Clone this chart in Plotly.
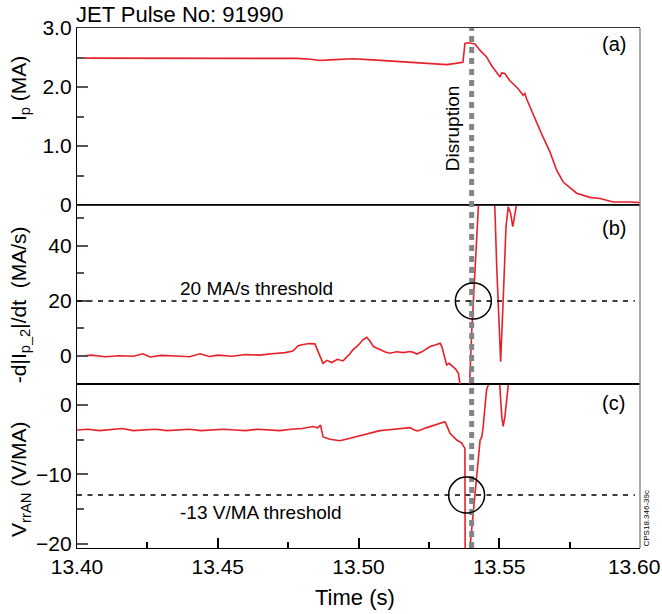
import plotly.graph_objects as go

# ---- data -------------------------------------------------------------
pulse_label = "JET Pulse No: 91990"

# (a) plasma current Ip [MA]
t_a = [13.4000, 13.4100, 13.4200, 13.4300, 13.4400, 13.4500, 13.4600, 13.4700,
       13.4780, 13.4830, 13.4863, 13.4899, 13.4940, 13.4980, 13.5050, 13.5120,
       13.5200, 13.5260, 13.5314, 13.5345, 13.5371, 13.5378, 13.5390, 13.5414,
       13.5432, 13.5455, 13.5473, 13.5503, 13.5509, 13.5520, 13.5537, 13.5567,
       13.5585, 13.5591, 13.5597, 13.5650, 13.5680, 13.5704, 13.5727, 13.5775,
       13.5822, 13.5858, 13.5905, 13.5965, 13.6000]
ip = [2.49, 2.49, 2.485, 2.49, 2.49, 2.49, 2.49, 2.49,
      2.485, 2.47, 2.45, 2.46, 2.475, 2.48, 2.46, 2.44,
      2.41, 2.39, 2.38, 2.40, 2.42, 2.74, 2.75, 2.73,
      2.62, 2.51, 2.36, 2.17, 2.24, 2.23, 2.11, 1.97,
      1.86, 1.89, 1.80, 1.21, 0.90, 0.59, 0.39, 0.20,
      0.13, 0.11, 0.05, 0.05, 0.04]

# (b) -d|Ip_2|/dt [MA/s]
t_b = [13.4000, 13.4050, 13.4100, 13.4150, 13.4200, 13.4234, 13.4260, 13.4300,
       13.4350, 13.4400, 13.4437, 13.4470, 13.4500, 13.4550, 13.4600, 13.4650,
       13.4700, 13.4740, 13.4767, 13.4785, 13.4799, 13.4825, 13.4845, 13.4860,
       13.4874, 13.4888, 13.4905, 13.4925, 13.4945, 13.4965, 13.4980, 13.5000,
       13.5015, 13.5029, 13.5040, 13.5053, 13.5075, 13.5095, 13.5112, 13.5135,
       13.5160, 13.5183, 13.5195, 13.5207, 13.5225, 13.5240, 13.5254, 13.5270,
       13.5290, 13.5296, 13.5305, 13.5313, 13.5322, 13.5331, 13.5345, 13.5355,
       13.5361, 13.5368, 13.5385, 13.5394, 13.5402, 13.5408, 13.5420, 13.5426,
       13.5434, 13.5476, 13.5484, 13.5491, 13.5505, 13.5514, 13.5524, 13.5532,
       13.5540, 13.5548, 13.5556, 13.5563, 13.5570]
dip_dt = [-0.2, 0.3, -0.3, 0.1, -0.1, 0.8, -0.4, 0.2,
          0.0, -0.3, 0.8, -0.2, 0.3, -0.1, 0.5, 0.3,
          0.9, 1.2, 1.8, 3.6, 4.1, 4.5, 4.4, 0.5,
          -2.7, -1.6, -2.4, -1.2, -1.8, 0.3, 2.2, 4.0,
          5.8, 6.8, 5.5, 3.4, 2.2, 1.4, 1.0, 1.5,
          1.2, 1.6, 1.3, 0.7, 1.5, 2.4, 3.4, 3.9,
          4.6, 3.4, -0.5, -3.3, -2.7, -3.5, -4.8, -6.3,
          -10.5, -16.0, -16.0, -12.0, 8.2, 20.4, 44.7, 55.0,
          70.0, 70.0, 55.0, 32.5, -2.1, 20.4, 47.0, 54.3,
          52.0, 47.0, 51.9, 56.0, 70.0]

# (c) V_rrAN [V/MA]
t_c = [13.4000, 13.4040, 13.4080, 13.4120, 13.4160, 13.4200, 13.4240, 13.4280,
       13.4320, 13.4360, 13.4400, 13.4440, 13.4480, 13.4520, 13.4560, 13.4600,
       13.4640, 13.4680, 13.4720, 13.4760, 13.4800, 13.4838, 13.4855, 13.4865,
       13.4874, 13.4899, 13.4934, 13.4970, 13.5016, 13.5045, 13.5076, 13.5100,
       13.5120, 13.5150, 13.5183, 13.5198, 13.5211, 13.5240, 13.5270, 13.5307,
       13.5313, 13.5325, 13.5349, 13.5367, 13.5372, 13.5378, 13.5380, 13.5388,
       13.5396, 13.5408, 13.5420, 13.5432, 13.5438, 13.5443, 13.5455, 13.5461,
       13.5466, 13.5500, 13.5509, 13.5514, 13.5520, 13.5529, 13.5535]
vrran = [-3.6, -3.5, -3.7, -3.6, -3.4, -3.7, -3.6, -3.5,
         -3.7, -3.6, -3.5, -3.7, -3.6, -3.5, -3.6, -3.7,
         -3.5, -3.6, -3.7, -3.5, -3.4, -3.1, -3.3, -2.9,
         -4.6, -4.95, -5.15, -4.8, -4.33, -4.0, -3.7, -3.6,
         -3.5, -3.4, -3.27, -3.6, -3.75, -3.3, -2.9, -2.4,
         -2.9, -4.1, -5.05, -5.5, -5.9, -6.2, -40.0, -40.0,
         -20.6, -15.2, -10.8, -5.05, -4.6, -3.1, 2.2, 2.9,
         4.0, 4.0, -1.7, -3.1, -1.7, 2.6, 4.0]

t_disruption = 13.5402
didt_threshold = 20      # MA/s
vrran_threshold = -13    # V/MA
t_cross_b = 13.5408
t_cross_c = 13.5384

x_ticks = [13.40, 13.45, 13.50, 13.55, 13.60]
# the last label is padded so it stays inside the page
x_ticktext = ["13.40", "13.45", "13.50", "13.55", "13.60\u00a0\u00a0"]
ip_ticks = [0, 1, 2, 3]
ip_ticktext = ["0", "1.0", "2.0", "3.0"]
didt_ticks = [0, 20, 40]
vrran_ticks = [-20, -10, 0]

# ---- styling ----------------------------------------------------------
RED = "#e8202a"
FONT = "Liberation Sans, Arial, Helvetica, sans-serif"
T_END = 13.5982

fig = go.Figure()
line_style = dict(color=RED, width=1.6)
fig.add_trace(go.Scatter(x=t_a, y=ip, mode="lines", line=line_style, xaxis="x3", yaxis="y3"))
fig.add_trace(go.Scatter(x=t_b, y=dip_dt, mode="lines", line=line_style, xaxis="x2", yaxis="y2"))
fig.add_trace(go.Scatter(x=t_c, y=vrran, mode="lines", line=line_style, xaxis="x", yaxis="y"))

dom_c = [0.0, 0.3154]
dom_b = [0.3154, 0.6596]
dom_a = [0.6596, 1.0]

def yaxis_style(domain, rng, tickvals, minor_vals, ticktext=None, anchor="x"):
    d = dict(domain=domain, range=rng, anchor=anchor, tickmode="array", tickvals=tickvals,
             ticks="inside", ticklen=11, tickwidth=1.5, tickcolor="#555555",
             showline=True, linecolor="black", linewidth=1.3,
             showgrid=False, zeroline=False, automargin=False,
             tickfont=dict(size=21, color="black", family=FONT),
             minor=dict(tickmode="array", tickvals=minor_vals, ticks="inside",
                        ticklen=7, tickwidth=1.5, tickcolor="#555555", showgrid=False))
    if ticktext is not None:
        d["ticktext"] = ticktext
    return d

fig.update_layout(
    width=662, height=614,
    margin=dict(l=77, r=22, t=28, b=66, autoexpand=False),
    paper_bgcolor="white", plot_bgcolor="white",
    showlegend=False,
    font=dict(family=FONT, color="black"),
    xaxis=dict(domain=[0, 1], range=[13.40, 13.60], anchor="y",
               tickmode="array", tickvals=x_ticks, ticktext=x_ticktext,
               ticklabeloverflow="allow", automargin=False,
               ticks="inside", ticklen=10, tickwidth=1.5, tickcolor="black",
               tickfont=dict(size=21, color="black", family=FONT),
               minor=dict(dtick=0.025, tick0=13.40, ticks="inside", ticklen=6,
                          tickwidth=1.5, tickcolor="black", showgrid=False),
               showline=True, mirror=True, linecolor="black", linewidth=1.3,
               showgrid=False, zeroline=False),
    xaxis2=dict(domain=[0, 1], matches="x", anchor="y2", showticklabels=False, ticks="",
                showline=True, mirror=True, linecolor="black", linewidth=1.3,
                showgrid=False, zeroline=False, automargin=False),
    xaxis3=dict(domain=[0, 1], matches="x", anchor="y3", showticklabels=False, ticks="",
                showline=True, mirror=True, linecolor="#333333", linewidth=1.3,
                showgrid=False, zeroline=False, automargin=False),
    yaxis=yaxis_style(dom_c, [-20.63, 3.03], vrran_ticks, [-15, -5], anchor="x"),
    yaxis2=yaxis_style(dom_b, [-10.2, 54.9], didt_ticks, [10, 30, 50], anchor="x2"),
    yaxis3=yaxis_style(dom_a, [0, 3.0], ip_ticks, [0.5, 1.5, 2.5], ip_ticktext, anchor="x3"),
)

shapes = [
    # right frame edge
    dict(type="line", xref="paper", yref="paper", x0=1, x1=1, y0=0, y1=1,
         line=dict(color="#8c8c8c", width=1.5)),
    # disruption time marker
    dict(type="line", xref="x", yref="paper", x0=t_disruption, x1=t_disruption, y0=0, y1=1,
         line=dict(color="#858585", width=5, dash="6px,5px")),
    # threshold lines
    dict(type="line", xref="x2", yref="y2", x0=13.40, x1=T_END,
         y0=didt_threshold, y1=didt_threshold,
         line=dict(color="black", width=1.5, dash="5px,5.5px")),
    dict(type="line", xref="x", yref="y", x0=13.40, x1=T_END,
         y0=vrran_threshold, y1=vrran_threshold,
         line=dict(color="black", width=1.5, dash="5px,5.5px")),
    # threshold crossing markers
    dict(type="circle", xref="x2", yref="y2", xsizemode="pixel", ysizemode="pixel",
         xanchor=t_cross_b, yanchor=didt_threshold, x0=-18, x1=18, y0=-18, y1=18,
         line=dict(color="black", width=1.5)),
    dict(type="circle", xref="x", yref="y", xsizemode="pixel", ysizemode="pixel",
         xanchor=t_cross_c, yanchor=vrran_threshold, x0=-18, x1=18, y0=-18, y1=18,
         line=dict(color="black", width=1.5)),
]
fig.update_layout(shapes=shapes)

def label(text, x, y, size, xref="paper", yref="paper", xanchor="center",
          yanchor="middle", angle=0):
    return dict(text=text, x=x, y=y, xref=xref, yref=yref, xanchor=xanchor,
                yanchor=yanchor, textangle=angle, showarrow=False,
                font=dict(size=size, color="black", family=FONT))

annotations = [
    label(pulse_label, -0.0053, 1.0269, 22, xanchor="left"),
    label("Time (s)", 0.494, -0.096, 22),
    label("I<sub>p</sub> (MA)", -0.1012, 0.8827, 21, angle=-90),
    label("-d|I<sub>p_2</sub>|/dt  (MA/s)", -0.1012, 0.467, 21, angle=-90),
    label("V<sub>rrAN</sub> (V/MA)", -0.1012, 0.131, 21, angle=-90),
    label("(a)", 0.953, 0.969, 20),
    label("(b)", 0.953, 0.6154, 20),
    label("(c)", 0.953, 0.2779, 20),
    label("Disruption", 13.5332, 1.30, 19, xref="x3", yref="y3", angle=-90),
    label("20 MA/s threshold", 13.4359, 24.7, 19, xref="x2", yref="y2", xanchor="left"),
    label("-13 V/MA threshold", 13.4359, -15.44, 19, xref="x", yref="y", xanchor="left"),
    label("CPS18.346-39c", 1.0124, 0.0567, 8, angle=-90),
]
fig.update_layout(annotations=annotations)

fig.write_html("out.html")
